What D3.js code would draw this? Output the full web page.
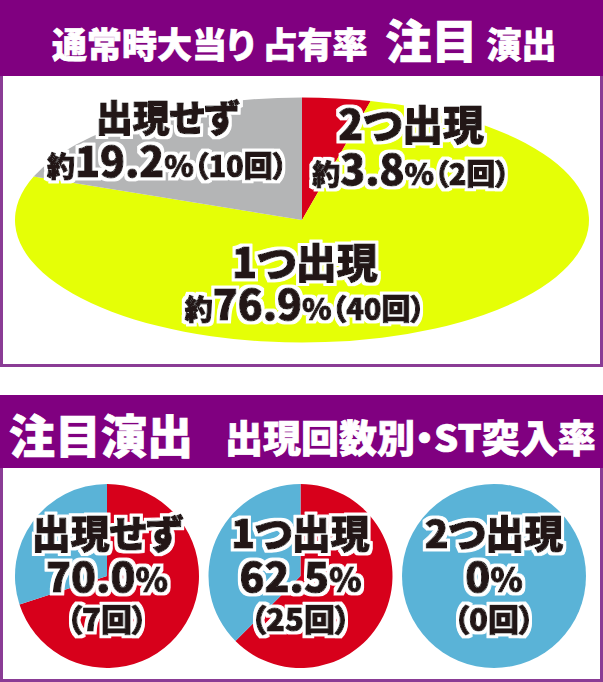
<!DOCTYPE html>
<html>
<head>
<meta charset="utf-8">
<script src="https://cdn.jsdelivr.net/npm/d3@7"></script>
<style>
  html, body { margin: 0; padding: 0; background: #fff; }
  svg { display: block; }
  text { font-family: "Noto Sans CJK JP", "Noto Sans", sans-serif; font-weight: 900; font-feature-settings: "palt"; }
  .lbl { fill: #231815; stroke: #231815; stroke-width: 1.1px; stroke-linejoin: round; filter: url(#halo); }
  .head { fill: #fff; stroke: #fff; stroke-width: 0.7px; }
</style>
</head>
<body>
<svg id="chart" width="603" height="682"></svg>
<script>
// titles
const topTitle = ["通常時大当り", "占有率", "注目", "演出"];
const bottomTitle = ["注目演出", "出現回数別・ST突入率"];

// top: share of big hits by number of 注目演出 appearances
const shareCategories = ["2つ出現", "1つ出現", "出現せず"];
const shareCounts = [2, 40, 10];
const sharePercents = ["3.8", "76.9", "19.2"];
const shareColors = ["#d7001b", "#e5ff06", "#b4b5b6"];

// bottom: ST entry rate by number of appearances
const stCategories = ["出現せず", "1つ出現", "2つ出現"];
const stRates = [70.0, 62.5, 0];
const stCounts = [7, 25, 0];
const stColors = ["#d7001b", "#5ab3d7"];

const W = 603, H = 682;
const purple = "#800080", frame = "#8a3c95";
const svg = d3.select("#chart");

// white halo behind the label text
const f = svg.append("defs").append("filter").attr("id", "halo")
  .attr("x", "-20%").attr("y", "-40%").attr("width", "140%").attr("height", "180%");
f.append("feMorphology").attr("in", "SourceAlpha").attr("operator", "dilate")
  .attr("radius", 3).attr("result", "grow");
f.append("feFlood").attr("flood-color", "#fff").attr("result", "white");
f.append("feComposite").attr("in", "white").attr("in2", "grow").attr("operator", "in").attr("result", "ring");
let fm = f.append("feMerge");
fm.append("feMergeNode").attr("in", "ring");
fm.append("feMergeNode").attr("in", "SourceGraphic");

// ---------- panels ----------
function panel(y0, y1, headH) {
  svg.append("rect")
    .attr("x", 1.5).attr("y", y0 + 1.5)
    .attr("width", W - 3).attr("height", y1 - y0 - 3)
    .attr("fill", "#fff").attr("stroke", frame).attr("stroke-width", 3);
  svg.append("rect")
    .attr("x", 0).attr("y", y0)
    .attr("width", W).attr("height", headH)
    .attr("fill", purple);
}
panel(0, 367, 76);
panel(395, 682, 73);

// header 1
let h1 = svg.append("text").attr("class", "head").attr("x", 52).attr("y", 58);
h1.append("tspan").attr("font-size", 35).text(topTitle[0]);
h1.append("tspan").attr("font-size", 35).attr("dx", 8).text(topTitle[1]);
h1.append("tspan").attr("font-size", 46).attr("dx", 18).text(topTitle[2]);
h1.append("tspan").attr("font-size", 35).attr("dx", 9).text(topTitle[3]);

// header 2
svg.append("text").attr("class", "head").attr("x", 9).attr("y", 453)
  .attr("font-size", 46).text(bottomTitle[0]);
svg.append("text").attr("class", "head").attr("x", 225).attr("y", 452)
  .attr("font-size", 38).text(bottomTitle[1]);

// ---------- top pie (ellipse) ----------
const cx = 302, cy = 220, rx = 287, ry = 122.5;
const pie = d3.pie().sort(null);
const bigArc = d3.arc().innerRadius(0).outerRadius(rx);

const topG = svg.append("g")
  .attr("transform", `translate(${cx},${cy}) scale(1,${ry / rx})`);
topG.selectAll("path")
  .data(pie(shareCounts))
  .join("path")
  .attr("d", bigArc)
  .attr("fill", (d, i) => shareColors[i]);

// label anchors, in ellipse-radius units from the centre
const shareLabelPos = [[0.38, -0.655], [0.01, 0.47], [-0.47, -0.715]];
const shareLabels = svg.append("g");
shareCategories.forEach(function(c, i) {
  let x = cx + shareLabelPos[i][0] * rx;
  let y = cy + shareLabelPos[i][1] * ry;
  shareLabels.append("text").attr("class", "lbl")
    .attr("x", x).attr("y", y).attr("text-anchor", "middle")
    .attr("font-size", i == 2 ? 37 : 41)
    .text(c);
  let t = shareLabels.append("text").attr("class", "lbl")
    .attr("x", x).attr("y", y + (i == 1 ? 42 : 45)).attr("text-anchor", "middle");
  t.append("tspan").attr("font-size", 28).text("約");
  t.append("tspan").attr("font-size", 41).text(sharePercents[i]);
  t.append("tspan").attr("font-size", 30).text("%");
  t.append("tspan").attr("font-size", 29).text("（" + shareCounts[i] + "回）");
});

// ---------- bottom pies ----------
const x = d3.scalePoint().domain(stCategories).range([107, 494]);
const r = 92, pcy = 576;
const smallArc = d3.arc().innerRadius(0).outerRadius(r);

stCategories.forEach(function(c, i) {
  let g = svg.append("g").attr("transform", `translate(${x(c)},${pcy})`);
  g.selectAll("path")
    .data(pie([stRates[i], 100 - stRates[i]]))
    .join("path")
    .attr("d", smallArc)
    .attr("fill", (d, j) => stColors[j]);

  g.append("text").attr("class", "lbl")
    .attr("y", -28).attr("text-anchor", "middle")
    .attr("font-size", 39).text(c);
  let t = g.append("text").attr("class", "lbl")
    .attr("y", 16).attr("text-anchor", "middle");
  t.append("tspan").attr("font-size", 41)
    .text(stRates[i] == 0 ? "0" : stRates[i].toFixed(1));
  t.append("tspan").attr("font-size", 33).text("%");
  g.append("text").attr("class", "lbl")
    .attr("y", 55).attr("text-anchor", "middle")
    .attr("font-size", 31).text("（" + stCounts[i] + "回）");
});
</script>
</body>
</html>
